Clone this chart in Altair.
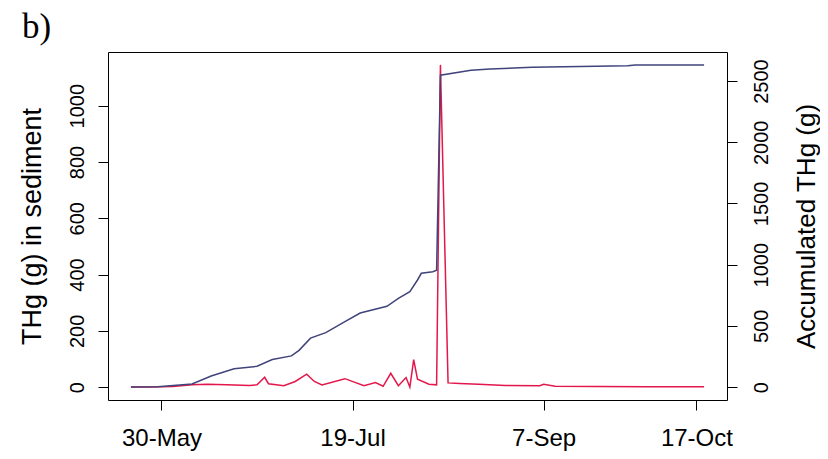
import altair as alt
import pandas as pd

YEAR = 2013

# THg (g) in sediment (left axis, red)
sed_dates = ["05-22", "05-27", "06-02", "06-07", "06-11", "06-16", "06-22", "06-24",
             "06-26", "06-27", "07-01", "07-04", "07-07", "07-09", "07-11", "07-17",
             "07-22", "07-25", "07-27", "07-29", "07-31", "08-02", "08-03", "08-04",
             "08-05", "08-08", "08-10", "08-11", "08-13", "08-16", "08-21", "08-28",
             "09-06", "09-07", "09-10", "09-21", "10-04", "10-19"]
sed_values = [0, 0, 2, 8, 10, 8, 6, 8,
              35, 12, 5, 20, 46, 20, 8, 30,
              5, 16, 3, 49, 5, 34, 0, 98,
              28, 10, 8, 1145, 15, 13, 10, 6,
              5, 10, 3, 2, 1, 1]

# Accumulated THg (g) (right axis, blue)
acc_dates = ["05-22", "05-29", "06-07", "06-12", "06-18", "06-24", "06-28", "07-03",
             "07-05", "07-08", "07-12", "07-17", "07-21", "07-28", "07-31", "08-03",
             "08-05", "08-06", "08-09", "08-10", "08-11", "08-19", "08-24", "09-04",
             "09-29", "10-01", "10-19"]
acc_values = [0, 2, 25, 91, 150, 170, 225, 255,
              300, 400, 445, 535, 605, 660, 725, 780,
              875, 930, 943, 955, 2548, 2589, 2598, 2612,
              2626, 2632, 2632]

x_tick_dates = [(5, 30), (7, 19), (9, 7), (10, 17)]
x_domain = [(5, 16), (10, 25)]
left_ticks = [0, 200, 400, 600, 800, 1000]
right_ticks = [0, 500, 1000, 1500, 2000, 2500]
left_domain = [-45.8, 1190.8]
right_domain = [-105.3, 2737.3]
panel_label = "b)"

sed = pd.DataFrame({"date": [f"{YEAR}-{d}T00:00:00" for d in sed_dates], "v": sed_values})
acc = pd.DataFrame({"date": [f"{YEAR}-{d}T00:00:00" for d in acc_dates], "v": acc_values})

FONT = "Liberation Sans"

xscale = alt.Scale(domain=[alt.DateTime(year=YEAR, month=m, date=d) for m, d in x_domain], nice=False)
xaxis = alt.Axis(values=[alt.DateTime(year=YEAR, month=m, date=d) for m, d in x_tick_dates],
                 format="%-d-%b", title=None, grid=False, domain=False,
                 tickSize=10, tickColor="black", labelFontSize=24, labelFont=FONT,
                 labelColor="black", labelPadding=16, labelFlush=False)

red = alt.Chart(sed).mark_line(color="#E3174B", strokeWidth=1.5).encode(
    x=alt.X("date:T", scale=xscale, axis=xaxis),
    y=alt.Y("v:Q", scale=alt.Scale(domain=left_domain, nice=False, zero=False),
            axis=alt.Axis(values=left_ticks, orient="left", title="THg (g) in sediment",
                          format="d",
                          grid=False, domain=False, tickSize=10, tickColor="black",
                          labelAngle=270, labelAlign="center", labelBaseline="alphabetic",
                          labelFontSize=20, labelFont=FONT, labelColor="black", labelPadding=15,
                          titleFontSize=27, titleFont=FONT, titleFontWeight="normal",
                          titleColor="black", titlePadding=21, titleBaseline="bottom")),
)

blue = alt.Chart(acc).mark_line(color="#40447A", strokeWidth=1.5).encode(
    x=alt.X("date:T", scale=xscale, axis=xaxis),
    y=alt.Y("v:Q", scale=alt.Scale(domain=right_domain, nice=False, zero=False),
            axis=alt.Axis(values=right_ticks, orient="right", title="Accumulated THg (g)",
                          format="d",
                          grid=False, domain=False, tickSize=10, tickColor="black",
                          labelAngle=270, labelAlign="center", labelBaseline="top",
                          labelFontSize=20, labelFont=FONT, labelColor="black", labelPadding=14,
                          titleFontSize=26, titleFont=FONT, titleFontWeight="normal",
                          titleColor="black", titlePadding=22, titleAngle=270,
                          titleBaseline="top")),
)

label = alt.Chart(alt.Data(values=[{"t": panel_label}])).mark_text(
    font="Liberation Serif", fontSize=35, align="left", baseline="alphabetic", color="black"
).encode(x=alt.value(-86), y=alt.value(-14), text="t:N")

chart = alt.layer(red, blue, label).resolve_scale(y="independent").properties(
    width=619, height=348,
    autosize=alt.AutoSizeParams(type="none"),
    padding={"left": 100, "top": 44, "right": 93, "bottom": 51},
    background="white",
).configure_view(stroke="black", strokeWidth=1)

chart.save("out.html", embed_options={"renderer": "svg", "actions": False})
